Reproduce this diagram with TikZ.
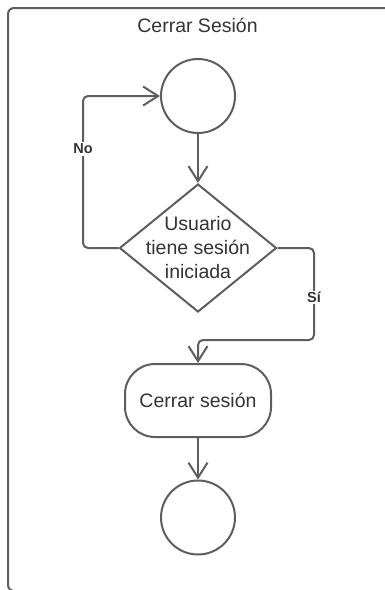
\documentclass[tikz,border=0pt]{standalone}
\usepackage{fontspec}
\setmainfont{Liberation Sans}
\usetikzlibrary{shapes.geometric,arrows.meta}
\definecolor{linegray}{HTML}{5E5E5E}
\definecolor{textgray}{HTML}{333333}

\begin{document}
\begin{tikzpicture}[x=1pt,y=-1pt,line width=2pt,
  bodytext/.style={text=textgray,font=\fontsize{19.5}{24}\selectfont,align=center,inner sep=0pt},
  statenode/.style={circle,draw=linegray,fill=white,minimum size=74pt,inner sep=0pt},
  decision/.style={diamond,draw=linegray,fill=white,minimum width=157pt,minimum height=128pt,inner sep=0pt},
  activity/.style={rectangle,rounded corners=30pt,draw=linegray,fill=white,minimum width=146pt,minimum height=73pt,bodytext},
  flow/.style={draw=linegray,rounded corners=5pt,-{Straight Barb[length=15pt,width=19pt]}},
  guard/.style={fill=white,text=textgray,font=\bfseries\fontsize{14.5}{17}\selectfont,inner sep=1.5pt}]
  \useasboundingbox (0,0) rectangle (385,590);
  \clip (0,0) rectangle (385,590);

  % swimlane frame
  \draw[linegray,rounded corners=6pt] (395,591) -- (8,591) -- (8,8) -- (395,8);
  \node[bodytext] (title) at (197.5,25) {Cerrar Sesión};

  % nodes
  \node[statenode] (start) at (198,96) {};
  \node[decision,label={[bodytext]center:{Usuario\\tiene sesión\\iniciada}}] (check) at (198,248) {};
  \node[activity] (logout) at (198,400.5) {Cerrar sesión};
  \node[statenode] (finish) at (198,517.5) {};

  \coordinate (noturn) at (83,96);
  \coordinate (siturn) at (314,340);

  % connectors
  \draw[flow] (start) -- (check);
  \draw[flow] (check.west) -| (noturn) -- (start.west);
  \draw[flow] (check.east) -| (siturn) -| (logout.north);
  \draw[flow] (logout) -- (finish);

  % guards
  \node[guard] (no) at (83,149) {No};
  \node[guard] (si) at (314,297.5) {Sí};
\end{tikzpicture}
\end{document}
